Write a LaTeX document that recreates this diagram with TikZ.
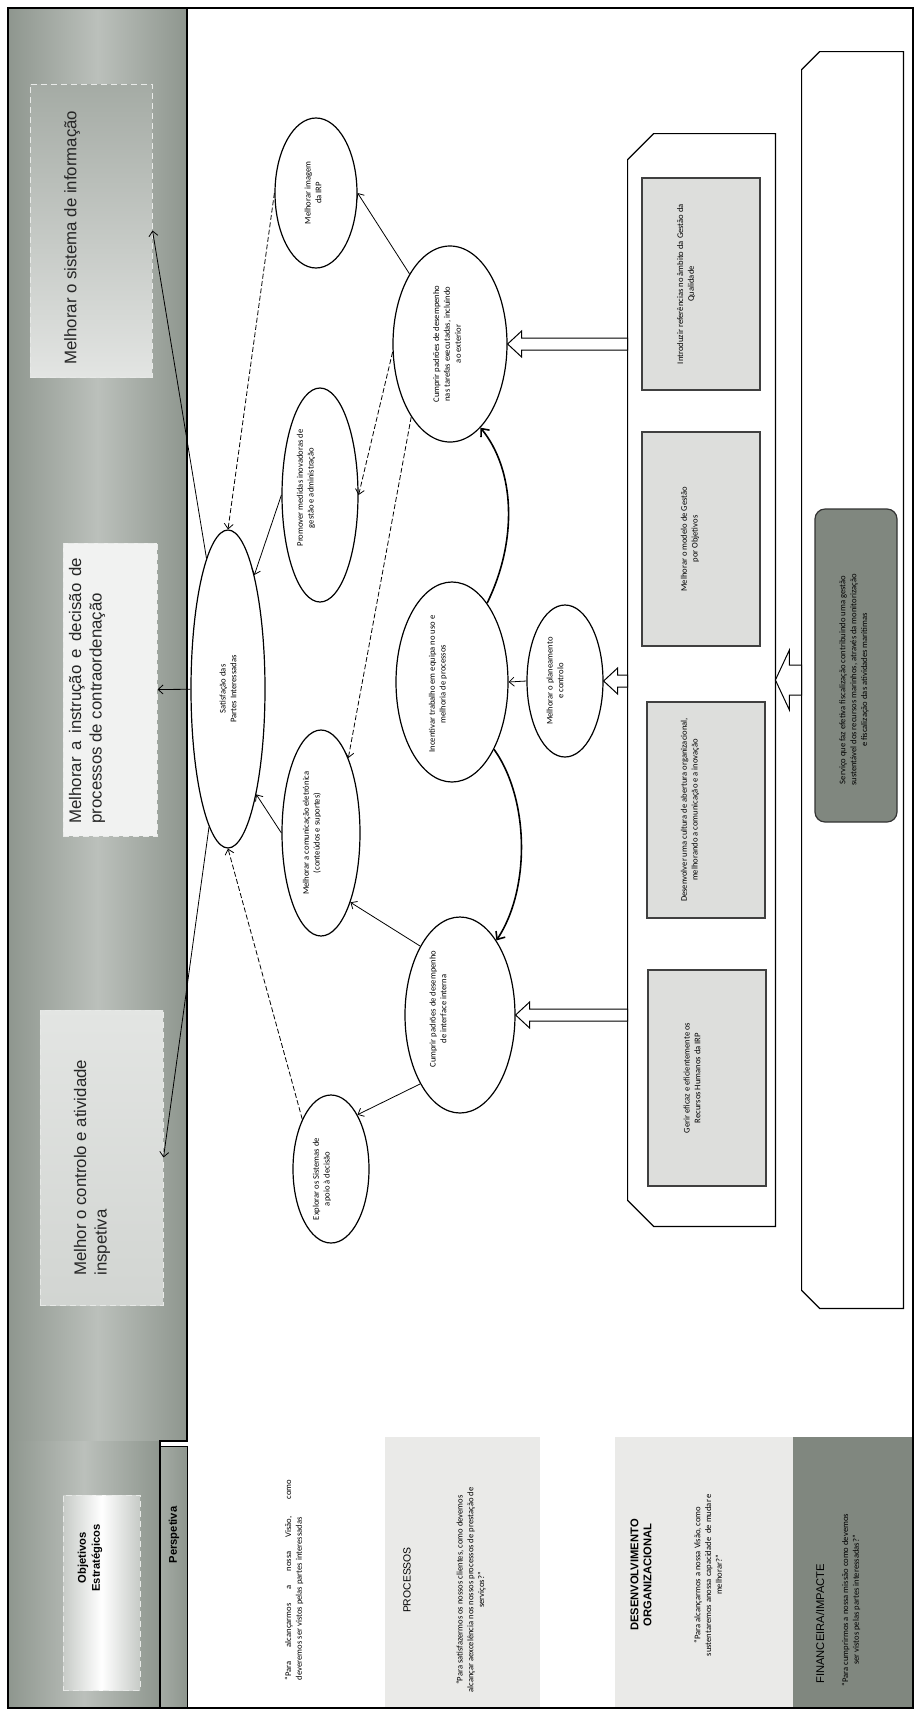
\documentclass[tikz,border=0pt]{standalone}
\usepackage{fontspec}
\setmainfont{Carlito}
\newfontfamily\arialf{Liberation Sans}
\usetikzlibrary{arrows.meta,shapes.geometric,calc}

\definecolor{bandgray}{RGB}{142,150,142}
\definecolor{boxgray}{RGB}{221,222,220}
\definecolor{deepgray}{RGB}{128,135,127}
\definecolor{rowgray}{RGB}{234,234,232}

\newcommand{\goalfont}{\fontsize{4.3}{5.4}\selectfont}
\newcommand{\hdrfont}{\arialf\fontsize{8.4}{10.2}\selectfont}

% block arrow pointing left: tip, tail, shaft half width, head half width, head length
\newcommand{\hollowarrow}[5]{%
  \draw[blockarr] let \p1=(#1), \p2=(#2) in
    (\x1,\y1) -- (\x1+#5,\y1+#4) -- (\x1+#5,\y1+#3) -- (\x2,\y1+#3)
    -- (\x2,\y1-#3) -- (\x1+#5,\y1-#3) -- (\x1+#5,\y1-#4) -- cycle;}

\begin{document}
\begin{tikzpicture}[x=0.5pt,y=-0.5pt,
  goal/.style={ellipse,draw,line width=0.6pt,inner sep=0pt},
  gtxt/.style={rotate=90,align=center,font=\goalfont,inner sep=0pt},
  hbox/.style={draw=white!80!bandgray,densely dashed,line width=0.5pt,inner sep=0pt},
  htxt/.style={rotate=90,anchor=west,align=left,font=\hdrfont,text=black!85,inner sep=0pt},
  actbox/.style={draw=black!75,fill=boxgray,line width=0.6pt,inner sep=0pt,minimum width=59pt},
  link/.style={-{Straight Barb[length=2.5pt,width=4.5pt]},line width=0.4pt},
  dlink/.style={link,dash pattern=on 2.5pt off 1.2pt},
  flow/.style={-{Straight Barb[length=3.2pt,width=5.5pt]},line width=0.8pt},
  blockarr/.style={draw,fill=white,line width=0.5pt,line join=miter},
  cont/.style={draw=none,inner sep=0pt}]
  \useasboundingbox (0,0) rectangle (923,1714);

  % header band and perspective rows
  \shade[left color=bandgray,right color=bandgray,middle color=bandgray!60!white] (8,8) rectangle (187,1441);
  \shade[left color=bandgray,right color=bandgray,middle color=bandgray!60!white] (8,1441) rectangle (160,1708);
  \shade[left color=bandgray!80!white,right color=bandgray] (160,1446) rectangle (187,1708);
  \fill[rowgray] (385,1437) rectangle (540,1708);
  \fill[rowgray] (615,1437) rectangle (793,1708);
  \fill[deepgray] (793,1437) rectangle (913,1708);
  \draw[line width=0.7pt] (187,8) -- (187,1441) -- (160,1441) -- (160,1708);
  \draw[line width=0.5pt] (160,1446) rectangle (187,1708);
  \draw[line width=0.7pt] (8,8) rectangle (913,1708);

  \node[hbox,top color=bandgray!80!white,bottom color=white!75!bandgray,minimum width=61pt,minimum height=146.5pt] (sis) at (91,230.5) {};
  \node[hbox,fill=white!88!bandgray,minimum width=47pt,minimum height=146.5pt] (ins) at (110,689.5) {};
  \node[hbox,top color=white!75!bandgray,bottom color=white!60!bandgray,minimum width=61.5pt,minimum height=147.5pt] (ctl) at (101.5,1157.5) {};
  \node[hbox,left color=bandgray!50!white,right color=bandgray!50!white,middle color=white,minimum width=38.5pt,minimum height=97.5pt] (obj) at (101.5,1592.5) {};

  \node[htxt] (sis-t) at (72,365) {Melhorar o sistema de informação};
  \node[htxt,text width=133pt,align=justify] (ins-t) at (87,824) {Melhorar a instrução e decisão de processos de contraordenação};
  \node[htxt] (ctl-t) at (92,1276) {Melhor o controlo e atividade\\inspetiva};
  \node[rotate=90,align=center,font=\arialf\bfseries\fontsize{5.6}{7}\selectfont,inner sep=0pt] (obj-t) at (90,1558) {Objetivos\\Estratégicos};
  \node[rotate=90,font=\arialf\bfseries\fontsize{5.6}{7}\selectfont,inner sep=0pt] (per-t) at (174,1535) {Perspetiva};

  % perspective texts
  \node[rotate=90,align=left,font=\goalfont,inner sep=0pt] (cli-q) at (294,1580) {\makebox[100pt][s]{“Para alcançarmos a nossa Visão, como}\\deveremos ser vistos pelas partes interessadas};
  \node[rotate=90,font=\arialf\fontsize{5.2}{6.2}\selectfont,inner sep=0pt] (pro-h) at (407,1580) {PROCESSOS};
  \node[gtxt] (pro-q) at (471,1590) {“Para satisfazermos os nossos clientes, como devemos\\alcançar aexcelência nos nossos processos de prestação de\\serviços?”};
  \node[rotate=90,align=center,font=\arialf\bfseries\fontsize{5.6}{6.6}\selectfont,inner sep=0pt] (dev-h) at (641,1575) {DESENVOLVIMENTO\\ORGANIZACIONAL};
  \node[gtxt] (dev-q) at (708,1575) {“Para alcançarmos a nossa Visão, como\\sustentaremos anossa capacidade\ \ de mudar e\\melhorar?”};
  \node[rotate=90,anchor=west,font=\arialf\fontsize{5.6}{6.6}\selectfont,inner sep=0pt] (fin-h) at (820,1684) {FINANCEIRA/IMPACTE};
  \node[gtxt] (fin-q) at (851,1600) {“Para cumprirmos a nossa missão como devemos\\ser vistos pelas partes interessadas?”};

  % containers
  \node[cont,minimum width=73.5pt,minimum height=546pt] (qin) at (701.5,680) {};
  \draw[line width=0.6pt] ([xshift=13pt]qin.north west) -- (qin.north east) -- (qin.south east)
    -- ([xshift=13pt]qin.south west) -- ([yshift=13pt]qin.south west) -- ([yshift=-13pt]qin.north west) -- cycle;
  \node[cont,minimum width=50.5pt,minimum height=628pt] (qout) at (852.5,680) {};
  \draw[line width=0.6pt] ([xshift=9pt]qout.north west) -- (qout.north east) -- (qout.south east)
    -- ([xshift=9pt]qout.south west) -- ([yshift=9pt]qout.south west) -- ([yshift=-9pt]qout.north west) -- cycle;

  \node[actbox,minimum height=106pt] (qual) at (701,284) {};
  \node[actbox,minimum height=107pt] (gpo) at (701,539) {};
  \node[actbox,minimum height=108pt] (cult) at (706,810) {};
  \node[actbox,minimum height=108pt] (rh) at (707,1078) {};
  \node[gtxt] (qual-t) at (686,284) {Introduzir referências no âmbito da Gestão da\\Qualidade};
  \node[gtxt] (gpo-t) at (690,539) {Melhorar o modelo de Gestão\\por Objetivos};
  \node[gtxt] (cult-t) at (690,810) {Desenvolver uma cultura de abertura organizacional,\\melhorando a comunicação e a inovação};
  \node[gtxt] (rh-t) at (692,1078) {Gerir eficaz e eficientemente os\\Recursos Humanos da IRP};

  \node[draw=black!80,fill=deepgray,rounded corners=5pt,line width=0.6pt,inner sep=0pt,minimum width=41pt,minimum height=156.5pt] (serv) at (856,665.5) {};
  \node[gtxt] (serv-t) at (854,680) {Serviço que faz efetiva fiscalização contribuindo uma gestão\\sustentável dos recursos marinhos, através da monitorização\\e fiscalização das atividades marítimas};

  % goals
  \node[goal,minimum width=37pt,minimum height=159pt] (sat) at (228,689) {};
  \node[goal,minimum width=41pt,minimum height=75pt] (img) at (316,193) {};
  \node[goal,minimum width=38pt,minimum height=107pt] (prom) at (320,495) {};
  \node[goal,minimum width=57pt,minimum height=98pt] (tar) at (450,344) {};
  \node[goal,minimum width=39pt,minimum height=103pt] (com) at (321,833) {};
  \node[goal,minimum width=56pt,minimum height=100pt] (inc) at (452,682) {};
  \node[goal,minimum width=38pt,minimum height=76pt] (plan) at (565,681) {};
  \node[goal,minimum width=55pt,minimum height=98pt] (int) at (460,1015) {};
  \node[goal,minimum width=38pt,minimum height=74pt] (expl) at (331,1169) {};

  \node[gtxt] (sat-t) at (228,689) {Satisfação das\\Partes Interessadas};
  \node[gtxt] (img-t) at (313,193) {Melhorar imagem\\da IRP};
  \node[gtxt] (prom-t) at (306,488) {Promover medidas inovadoras de\\gestão e administração};
  \node[gtxt] (tar-t) at (447,344) {Cumprir padrões de desempenho\\nas tarefas executadas, incluindo\\ao exterior};
  \node[gtxt] (com-t) at (312,833) {Melhorar a comunicação eletrónica\\(conteúdos e suportes)};
  \node[gtxt] (inc-t) at (438,684) {Incentivar trabalho em equipa no uso e\\melhoria de processos};
  \node[gtxt] (plan-t) at (555,681) {Melhorar o planeamento\\e controlo};
  \node[gtxt] (int-t) at (438,1009) {Cumprir padrões de desempenho\\de interface interna};
  \node[gtxt] (expl-t) at (322,1179) {Explorar os Sistemas de\\apoio à decisão};

  % block arrows
  \hollowarrow{tar.east}{qin.west |- tar.east}{3pt}{6.5pt}{7pt}
  \hollowarrow{plan.east}{qin.west |- plan.east}{3pt}{6.5pt}{7pt}
  \hollowarrow{int.east}{qin.west |- int.east}{3pt}{6.5pt}{7pt}
  \hollowarrow{qin.east}{qout.west}{7.5pt}{15pt}{7pt}

  % links
  \draw[link] (sat) -- (sis.east);
  \draw[link] (sat) -- (ins.east);
  \draw[link] (sat) -- (ctl.east);
  \draw[dlink] (img.west) -- (sat.north);
  \draw[link] (prom.west) -- (sat.77);
  \draw[link] (tar.120) -- (img.east);
  \draw[dlink] (tar.188) -- (prom.east);
  \draw[dlink] (tar.242) -- (com.70);
  \draw[link] (com.west) -- (sat.285);
  \draw[flow] (inc.66) .. controls (518,540) and (515,470) .. (tar.290);
  \draw[flow] (inc.302) .. controls (530,800) and (530,890) .. (int.64);
  \draw[link] (plan.west) -- (inc.east);
  \draw[link] (int.120) -- (com.293);
  \draw[link] (int.240) -- (expl.64);
  \draw[dlink] (expl.120) -- (sat.south);
\end{tikzpicture}
\end{document}
